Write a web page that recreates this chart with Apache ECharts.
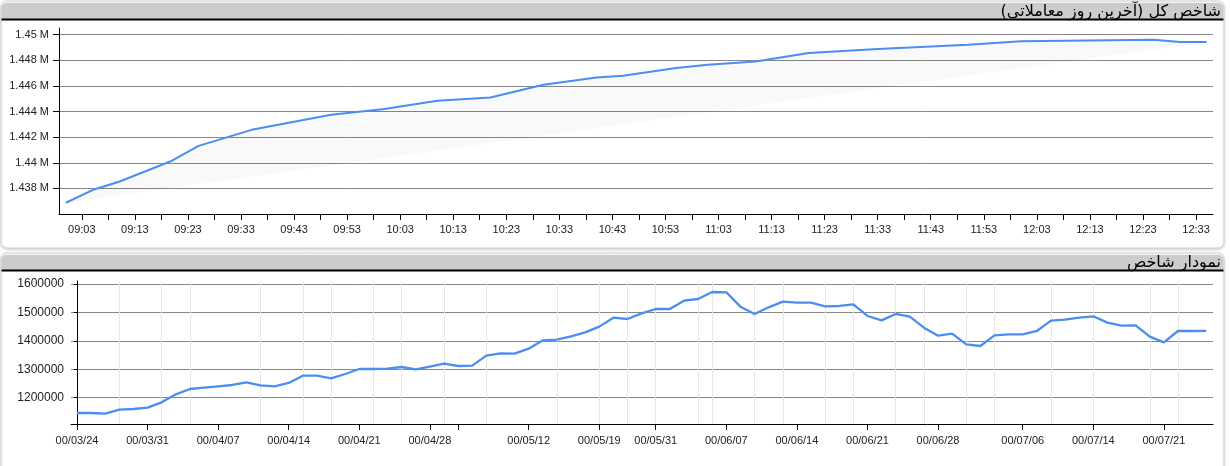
<!DOCTYPE html>
<html>
<head>
<meta charset="utf-8">
<script src="https://cdn.jsdelivr.net/npm/echarts@6/dist/echarts.min.js"></script>
<style>
html,body{margin:0;padding:0;background:#fff;}
#c{width:1230px;height:466px;}
</style>
</head>
<body>
<div id="c"></div>
<script>
// ---- Top chart data (last trading day) ----
const topTitle = 'شاخص کل (آخرین روز معاملاتی)';
const topTimes = ['09:00','09:05','09:10','09:20','09:25','09:35','09:50','10:00','10:10','10:20','10:30','10:40','10:45','10:55','11:01','11:10','11:20','11:33','11:50','12:00','12:25','12:30','12:35'];
const topValues = [1436880,1437870,1438520,1440160,1441320,1442570,1443740,1444190,1444840,1445090,1446090,1446660,1446790,1447390,1447650,1447910,1448570,1448880,1449220,1449480,1449610,1449430,1449430];
const topYTicks = [1438000,1440000,1442000,1444000,1446000,1448000,1450000];
const topXLabelTimes = ['09:03','09:13','09:23','09:33','09:43','09:53','10:03','10:13','10:23','10:33','10:43','10:53','11:03','11:13','11:23','11:33','11:43','11:53','12:03','12:13','12:23','12:33'];

// ---- Bottom chart data (index history, one point per trading day) ----
const bottomTitle = 'نمودار شاخص';
const bottomValues = [1146000,1146000,1143700,1157800,1160100,1164800,1183600,1211700,1230500,1235200,
  1239900,1244600,1254000,1243400,1239900,1251600,1277400,1277400,1268000,1283300,
  1300900,1300900,1302000,1307900,1299700,1309100,1319700,1311400,1312600,1347800,
  1356000,1354800,1372400,1401800,1404100,1415800,1429900,1449900,1481500,1476800,
  1496800,1512000,1512000,1541400,1547200,1571800,1570700,1520200,1494400,1517900,
  1537800,1534300,1534300,1521000,1522600,1528400,1487400,1472100,1494400,1485000,
  1446300,1418200,1425200,1387700,1381800,1419400,1422900,1422900,1434600,1471000,
  1474500,1481500,1486200,1463900,1453400,1454500,1414700,1394700,1434600,1434600,1435000];
const bottomLabels = ['00/03/24','00/03/31','00/04/07','00/04/14','00/04/21','00/04/28','00/05/12','00/05/19','00/05/31','00/06/07','00/06/14','00/06/21','00/06/28','00/07/06','00/07/14','00/07/21'];
const bottomLabelIdx = [0,5,10,15,20,25,32,37,41,46,51,56,61,67,72,77];
const bottomUnlabeledTickIdx = [27];
const bottomGridIdx = [3,6,8,13,16,18,21,23,26,29,34,37,39,41,44,45,48,50,53,55,58,60,63,65,69,72,76,78];
const bottomYTicks = [1200000,1300000,1400000,1500000,1600000];

// ---- helpers ----
const toMin = s => { const [h,m] = s.split(':').map(Number); return h*60+m; };
const fmtMin = v => { const h = Math.floor(v/60), m = Math.round(v - h*60); return String(h).padStart(2,'0')+':'+String(m).padStart(2,'0'); };
const topPts = topTimes.map((t,i)=>[toMin(t), topValues[i]]);
const topLabelVals = topXLabelTimes.map(toMin);
const topTickVals = [];
for (let v = topLabelVals[0]; v <= topLabelVals[topLabelVals.length-1]; v += 5) topTickVals.push(v);
const bottomPts = bottomValues.map((v,i)=>[i, v]);
const bottomTickIdx = bottomLabelIdx.concat(bottomUnlabeledTickIdx).sort((a,b)=>a-b);
const labelMap = {}; bottomLabelIdx.forEach((ix,k)=>labelMap[ix]=bottomLabels[k]);

const LINE = '#4a8ef0';
const AX = '#000';
const GRIDC = '#878787';
const LBL = {color:'#222', fontFamily:'"Liberation Sans", Arial, sans-serif', fontSize:11};

const chart = echarts.init(document.getElementById('c'), null, {renderer:'canvas'});
chart.setOption({
  animation:false,
  backgroundColor:'#fff',
  graphic:[
    {type:'rect', z:-10, shape:{x:1,y:1,width:1223,height:247,r:6}, style:{fill:'#fff',stroke:'#d6d6d6',lineWidth:1,shadowBlur:3,shadowColor:'rgba(0,0,0,0.2)',shadowOffsetY:1}},
    {type:'rect', z:-9, shape:{x:1.5,y:3,width:1222,height:16,r:[5,5,0,0]}, style:{fill:'#cccccc'}},
    {type:'line', z:-8, shape:{x1:1.5,y1:19.5,x2:1223.5,y2:19.5}, style:{stroke:'#000',lineWidth:2}},
    {type:'text', z:-7, style:{x:1221,y:11.5,text:topTitle,align:'right',verticalAlign:'middle',font:'16px "DejaVu Sans", sans-serif',fill:'#000'}},
    {type:'rect', z:-10, shape:{x:1,y:253,width:1223,height:230,r:6}, style:{fill:'#fff',stroke:'#d6d6d6',lineWidth:1,shadowBlur:3,shadowColor:'rgba(0,0,0,0.2)',shadowOffsetY:1}},
    {type:'rect', z:-9, shape:{x:1.5,y:255,width:1222,height:15,r:[5,5,0,0]}, style:{fill:'#cccccc'}},
    {type:'line', z:-8, shape:{x1:1.5,y1:270.5,x2:1223.5,y2:270.5}, style:{stroke:'#000',lineWidth:2}},
    {type:'text', z:-7, style:{x:1221,y:262.5,text:bottomTitle,align:'right',verticalAlign:'middle',font:'16px "DejaVu Sans", sans-serif',fill:'#000'}}
  ],
  grid:[
    {left:59, top:28, right:17, bottom:252},
    {left:71, top:281, right:17, bottom:42}
  ],
  xAxis:[
    {type:'value', gridIndex:0, min:538.7, max:756.2,
     axisLine:{show:true, lineStyle:{color:AX,width:1}},
     axisTick:{show:true, length:6, lineStyle:{color:AX}, customValues:topTickVals},
     axisLabel:Object.assign({margin:10, customValues:topLabelVals, formatter:v=>fmtMin(v)}, LBL),
     splitLine:{show:false}},
    {type:'value', gridIndex:1, min:-0.425, max:80.48,
     axisLine:{show:true, lineStyle:{color:AX,width:1}},
     axisTick:{show:true, length:6, lineStyle:{color:AX}, customValues:bottomTickIdx},
     axisLabel:Object.assign({margin:11, customValues:bottomLabelIdx, formatter:v=>labelMap[v]||''}, LBL),
     splitLine:{show:false}},
    {type:'value', gridIndex:1, min:-0.425, max:80.48, position:'bottom',
     axisLine:{show:false}, axisLabel:{show:false},
     axisTick:{show:false, customValues:bottomGridIdx},
     splitLine:{show:true, lineStyle:{color:'#e6e6e6', width:1}}}
  ],
  yAxis:[
    {type:'value', gridIndex:0, min:1436000, max:1450520,
     axisLine:{show:true, lineStyle:{color:AX,width:1}},
     axisTick:{show:true, length:6, lineStyle:{color:AX}, customValues:topYTicks},
     axisLabel:Object.assign({margin:10, customValues:topYTicks, formatter:v=>parseFloat((v/1e6).toFixed(3))+' M'}, LBL),
     splitLine:{show:true, lineStyle:{color:GRIDC,width:1}}},
    {type:'value', gridIndex:1, min:1107300, max:1610500,
     axisLine:{show:true, lineStyle:{color:AX,width:1}},
     axisTick:{show:true, length:3, lineStyle:{color:AX}, customValues:bottomYTicks},
     axisLabel:Object.assign({}, LBL, {fontSize:12, margin:7, customValues:bottomYTicks, formatter:v=>String(v)}),
     splitLine:{show:true, lineStyle:{color:GRIDC,width:1}}}
  ],
  series:[
    {type:'custom', xAxisIndex:0, yAxisIndex:0, data:[0], silent:true, z:1,
     renderItem:(params, api)=>({type:'polygon', shape:{points:topPts.map(p=>api.coord(p))}, style:{fill:'rgba(0,0,0,0.025)'}})},
    {type:'line', xAxisIndex:0, yAxisIndex:0, data:topPts, showSymbol:false, z:3,
     lineStyle:{color:LINE, width:2}},
    {type:'line', xAxisIndex:1, yAxisIndex:1, data:bottomPts, showSymbol:false, z:3,
     lineStyle:{color:LINE, width:2.3}}
  ]
});
</script>
</body>
</html>
